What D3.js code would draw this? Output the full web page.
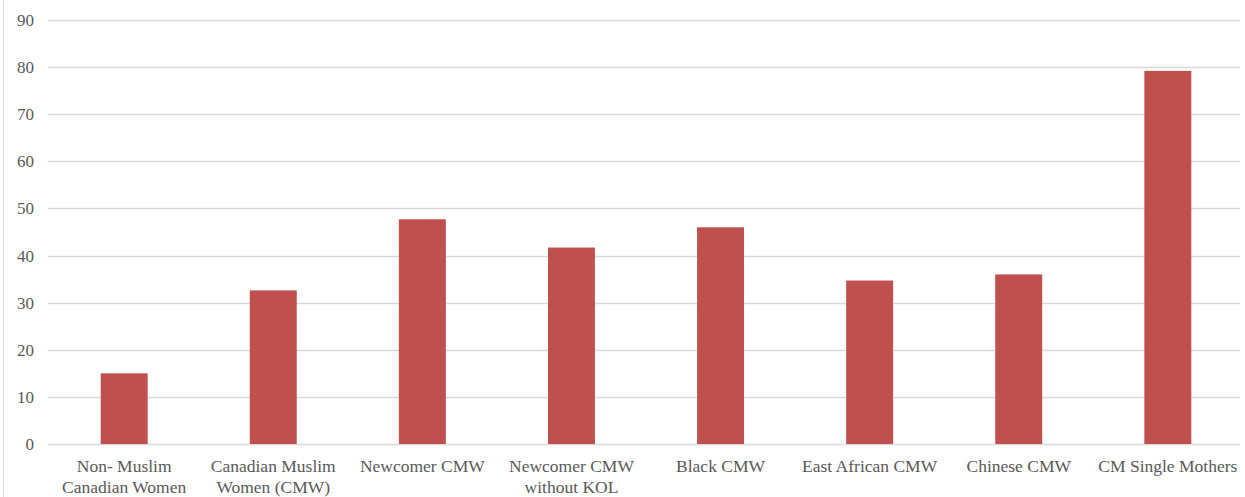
<!DOCTYPE html>
<html>
<head>
<meta charset="utf-8">
<script src="https://cdn.jsdelivr.net/npm/d3@7"></script>
<style>
  html, body { margin: 0; padding: 0; background: #fff; }
  svg { display: block; }
  .lbl { font-family: "Liberation Serif", "Times New Roman", Times, "DejaVu Serif", serif; fill: #595959; }
</style>
</head>
<body>
<svg id="chart" width="1245" height="497"></svg>
<script>
// Category labels (line breaks marked with \n)
const categories = [
  "Non- Muslim\nCanadian Women",
  "Canadian Muslim\nWomen (CMW)",
  "Newcomer CMW",
  "Newcomer CMW\nwithout KOL",
  "Black CMW",
  "East African CMW",
  "Chinese CMW",
  "CM Single Mothers"
];
const values = [15, 32.6, 47.7, 41.7, 46.0, 34.7, 36.0, 79.2];
const yTicks = [0, 10, 20, 30, 40, 50, 60, 70, 80, 90];

const svg = d3.select("#chart");
const margin = { left: 50, right: 3, top: 20, bottom: 53 };
const W = 1245, H = 497;

// thin frame on the left edge
svg.append("line")
  .attr("x1", 3.5).attr("x2", 3.5).attr("y1", 0).attr("y2", H)
  .attr("stroke", "#d9d9d9").attr("stroke-width", 1);

const x = d3.scaleBand()
  .domain(categories)
  .range([margin.left, W - margin.right])
  .paddingInner(0.685)
  .paddingOuter(0.34);

const y = d3.scaleLinear()
  .domain([0, 90])
  .range([H - margin.bottom, margin.top]);

// horizontal gridlines
svg.append("g")
  .selectAll("line")
  .data(yTicks)
  .join("line")
  .attr("x1", 48).attr("x2", W - 5)
  .attr("y1", d => Math.round(y(d)) + 0.5)
  .attr("y2", d => Math.round(y(d)) + 0.5)
  .attr("stroke", "#d9d9d9")
  .attr("stroke-width", 1.5);

// y tick labels
svg.append("g")
  .selectAll("text")
  .data(yTicks)
  .join("text")
  .attr("class", "lbl")
  .attr("x", 34)
  .attr("y", d => y(d))
  .attr("dy", "0.35em")
  .attr("text-anchor", "end")
  .style("font-size", "17px")
  .text(d => d);

// bars
svg.append("g")
  .selectAll("rect")
  .data(values)
  .join("rect")
  .attr("x", (d, i) => x(categories[i]))
  .attr("width", x.bandwidth())
  .attr("y", d => y(d))
  .attr("height", d => y(0) - y(d))
  .attr("fill", "#C0504D");

// category labels
const labels = svg.append("g")
  .selectAll("text")
  .data(categories)
  .join("text")
  .attr("class", "lbl")
  .attr("x", d => x(d) + x.bandwidth() / 2)
  .attr("y", 472)
  .attr("text-anchor", "middle")
  .style("font-size", "17.5px");

labels.selectAll("tspan")
  .data(d => d.split("\n").map((t, i) => ({ t, i })))
  .join("tspan")
  .attr("x", function () { return d3.select(this.parentNode).attr("x"); })
  .attr("dy", d => d.i === 0 ? 0 : 21)
  .text(d => d.t);
</script>
</body>
</html>
